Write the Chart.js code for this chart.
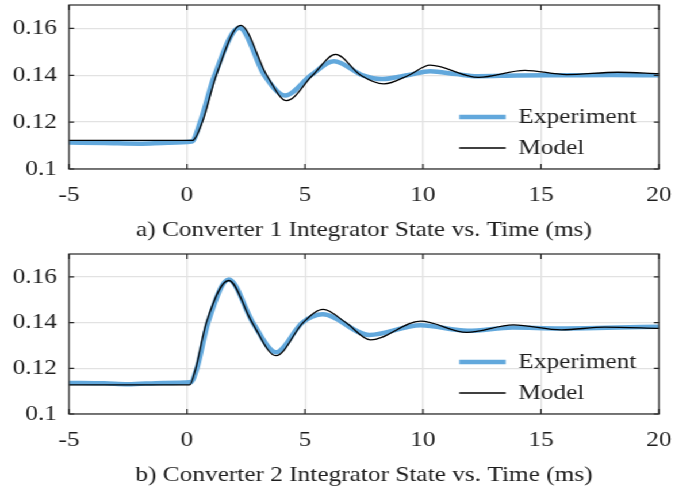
<!DOCTYPE html>
<html>
<head>
<meta charset="utf-8">
<script src="https://cdn.jsdelivr.net/npm/chart.js@4.4.1/dist/chart.umd.min.js"></script>
<style>
  html, body { margin: 0; padding: 0; background: #fff; overflow: hidden; }
  /* the figure is set a little wide, so stretch both panels horizontally */
  #wrap { position: absolute; left: 0; top: 0; transform: scaleX(1.15); transform-origin: 0 0; }
  canvas { display: block; }
</style>
</head>
<body>
<div id="wrap">
  <canvas id="conv1" width="587" height="245"></canvas>
  <canvas id="conv2" width="587" height="245"></canvas>
</div>
<script>
var xTicks = [-5, 0, 5, 10, 15, 20];
var yTicks = [0.1, 0.12, 0.14, 0.16];

// converter 1 integrator state (time in ms)
var c1ExpTime   = [-5, -3.5, -2, -0.8, 0.2, 0.56, 1.17, 2.22, 3.28, 4.16, 5.25, 6.23, 7.45, 8.27, 9.4, 10.3, 11.4, 12.3, 14, 16, 18, 20];
var c1ExpState  = [0.1113, 0.1111, 0.1108, 0.1112, 0.1117, 0.12, 0.14, 0.1603, 0.14, 0.1314, 0.14, 0.146, 0.14, 0.1384, 0.1401, 0.1417, 0.1405, 0.1396, 0.1399, 0.14, 0.1401, 0.14];
var c1ModelTime  = [-5, 0.23, 0.65, 1.24, 2.27, 3.38, 4.22, 5.32, 6.3, 7.36, 8.34, 9.4, 10.3, 12.35, 14.32, 16.08, 18.26, 20];
var c1ModelState = [0.1122, 0.1122, 0.12, 0.14, 0.1613, 0.14, 0.1292, 0.14, 0.1489, 0.14, 0.1363, 0.14, 0.1443, 0.1391, 0.1421, 0.1403, 0.1413, 0.1407];

// converter 2 integrator state (time in ms)
var c2ExpTime   = [-5, -3.5, -2.5, -1, 0.15, 0.42, 0.89, 1.77, 2.79, 3.77, 4.89, 5.75, 7.72, 9.9, 11.9, 13.8, 15.8, 17.8, 20];
var c2ExpState  = [0.1136, 0.1134, 0.113, 0.1136, 0.1139, 0.12, 0.14, 0.1588, 0.14, 0.127, 0.14, 0.1436, 0.1346, 0.1388, 0.1364, 0.1378, 0.1374, 0.1377, 0.1382];
var c2ModelTime  = [-5, 0.11, 0.37, 0.82, 1.77, 2.76, 3.77, 4.92, 5.77, 6.73, 7.78, 9.9, 11.86, 13.83, 15.87, 17.7, 20];
var c2ModelState = [0.1127, 0.1127, 0.12, 0.14, 0.1584, 0.14, 0.1255, 0.14, 0.1458, 0.14, 0.1324, 0.1406, 0.1357, 0.139, 0.1368, 0.138, 0.1375];

var ink = '#1e1e1e';
var expColor = '#62a8dc';
var serif = '"Liberation Serif", "Times New Roman", serif';

function pts(t, v) {
  return t.map(function (x, i) { return { x: x, y: v[i] }; });
}

// matlab style box: frame, inward ticks on all sides, legend bottom right
var boxPlugin = {
  id: 'box',
  afterDraw: function (chart) {
    var ctx = chart.ctx, a = chart.chartArea;
    var x = chart.scales.x, y = chart.scales.y;
    ctx.save();
    ctx.strokeStyle = '#262626';
    ctx.lineWidth = 1.2;
    ctx.beginPath();
    xTicks.forEach(function (v) {
      var px = x.getPixelForValue(v);
      ctx.moveTo(px, a.bottom); ctx.lineTo(px, a.bottom - 5);
      ctx.moveTo(px, a.top); ctx.lineTo(px, a.top + 5);
    });
    yTicks.forEach(function (v) {
      var py = y.getPixelForValue(v);
      ctx.moveTo(a.left, py); ctx.lineTo(a.left + 4.4, py);
      ctx.moveTo(a.right, py); ctx.lineTo(a.right - 4.4, py);
    });
    ctx.stroke();
    ctx.strokeRect(a.left, a.top, a.right - a.left, a.bottom - a.top);

    ctx.font = '22px ' + serif;
    ctx.fillStyle = ink;
    ctx.textBaseline = 'middle';
    var rows = [52, 21];
    chart.data.datasets.forEach(function (ds, i) {
      var ly = a.bottom - rows[i];
      ctx.strokeStyle = ds.borderColor;
      ctx.lineWidth = ds.borderWidth;
      ctx.beginPath();
      ctx.moveTo(a.right - 173.7, ly);
      ctx.lineTo(a.right - 133.3, ly);
      ctx.stroke();
      ctx.fillText(ds.label, a.right - 122.3, ly);
    });
    ctx.restore();
  }
};

function makeChart(id, expT, expV, modT, modV, caption, padTop) {
  var ctx = document.getElementById(id).getContext('2d');
  return new Chart(ctx, {
    type: 'line',
    data: {
      datasets: [{
        label: 'Experiment',
        data: pts(expT, expV),
        borderColor: expColor,
        borderWidth: 4.5,
        pointRadius: 0,
        cubicInterpolationMode: 'monotone',
        order: 1
      }, {
        label: 'Model',
        data: pts(modT, modV),
        borderColor: '#000000',
        borderWidth: 1.3,
        pointRadius: 0,
        cubicInterpolationMode: 'monotone',
        order: 0
      }]
    },
    options: {
      responsive: false,
      animation: false,
      layout: { padding: { left: 0, right: 13.96, top: padTop, bottom: 0 } },
      plugins: { legend: { display: false }, tooltip: { enabled: false } },
      scales: {
        x: {
          type: 'linear',
          min: -5,
          max: 20,
          afterBuildTicks: function (s) { s.ticks = xTicks.map(function (v) { return { value: v }; }); },
          afterFit: function (s) { s.height = 76; s.paddingLeft = 0; s.paddingRight = 0; },
          grid: { color: '#e2e2e2', lineWidth: 1.3, drawTicks: false },
          border: { display: false },
          ticks: { padding: 13, color: ink, font: { family: serif, size: 22 }, maxRotation: 0 },
          title: {
            display: true,
            text: caption,
            color: ink,
            font: { family: serif, size: 22 },
            padding: { top: 0, bottom: 2 }
          }
        },
        y: {
          min: 0.1,
          max: 0.17,
          afterBuildTicks: function (s) { s.ticks = yTicks.map(function (v) { return { value: v }; }); },
          afterFit: function (s) { s.width = 60; s.paddingTop = 0; s.paddingBottom = 0; },
          grid: { color: '#e2e2e2', lineWidth: 1.3, drawTicks: false },
          border: { display: false },
          ticks: {
            padding: 10.4,
            color: ink,
            font: { family: serif, size: 22 },
            callback: function (v) { return String(Number(v.toFixed(3))); }
          }
        }
      }
    },
    plugins: [boxPlugin]
  });
}

makeChart('conv1', c1ExpTime, c1ExpState, c1ModelTime, c1ModelState,
  'a) Converter 1 Integrator State vs. Time (ms)', 5);
makeChart('conv2', c2ExpTime, c2ExpState, c2ModelTime, c2ModelState,
  'b) Converter 2 Integrator State vs. Time (ms)', 9);
</script>
</body>
</html>
